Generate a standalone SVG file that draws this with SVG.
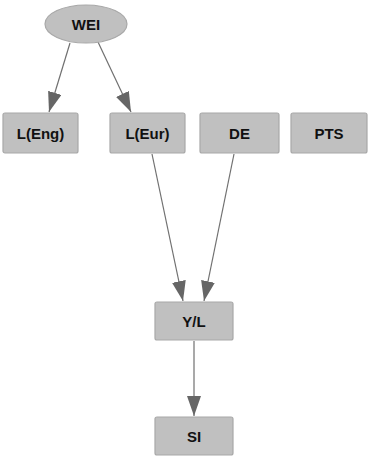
<svg xmlns="http://www.w3.org/2000/svg" width="370" height="457" viewBox="0 0 370 457">
<style>
.n{fill:#c0c0c0;stroke:#a8a8a8;stroke-width:1.2}
.t{font-family:"Liberation Sans",Arial,sans-serif;font-weight:bold;font-size:15px;fill:#111;text-anchor:middle}
.e{stroke:#707070;stroke-width:1.2;fill:none;marker-end:url(#a)}
</style>
<defs>
<marker id="a" viewBox="0 0 20 14" refX="20" refY="7" markerWidth="20" markerHeight="14" markerUnits="userSpaceOnUse" orient="auto">
<path d="M0,0 L20,7 L0,14 Z" fill="#666"/>
</marker>
</defs>
<rect width="370" height="457" fill="#fff"/>
<g id="edges">
<path class="e" d="M70,43 L49,112"/>
<path class="e" d="M98,42 L131,112"/>
<path class="e" d="M152,154 L183,301"/>
<path class="e" d="M234,154 L204,301"/>
<path class="e" d="M194,341 L194,416"/>
</g>
<g id="WEI"><ellipse class="n" cx="86" cy="24" rx="41" ry="19"/><text class="t" x="86" y="29.5">WEI</text></g>
<g id="LEng"><rect class="n" x="3" y="113" width="75" height="40" rx="2"/><text class="t" x="40.5" y="139">L(Eng)</text></g>
<g id="LEur"><rect class="n" x="110" y="113" width="75" height="40" rx="2"/><text class="t" x="147.5" y="139">L(Eur)</text></g>
<g id="DE"><rect class="n" x="200" y="113" width="79" height="40" rx="2"/><text class="t" x="239.5" y="139">DE</text></g>
<g id="PTS"><rect class="n" x="291" y="113" width="76" height="40" rx="2"/><text class="t" x="329" y="139">PTS</text></g>
<g id="YL"><rect class="n" x="155" y="302" width="78" height="38" rx="2"/><text class="t" x="194" y="327">Y/L</text></g>
<g id="SI"><rect class="n" x="155" y="417" width="78" height="38" rx="2"/><text class="t" x="194" y="442">SI</text></g>
</svg>
